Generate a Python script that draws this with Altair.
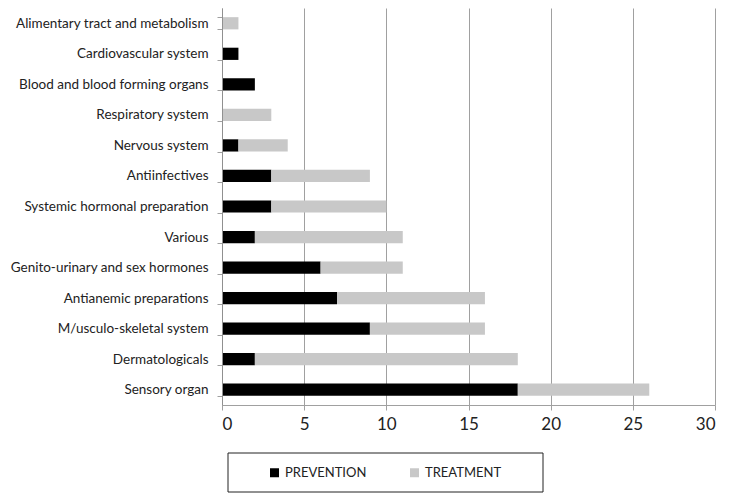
import altair as alt
import pandas as pd

categories = [
    "Alimentary tract and metabolism",
    "Cardiovascular system",
    "Blood and blood forming organs",
    "Respiratory system",
    "Nervous system",
    "Antiinfectives",
    "Systemic hormonal preparation",
    "Various",
    "Genito-urinary and sex hormones",
    "Antianemic preparations",
    "M/usculo-skeletal system",
    "Dermatologicals",
    "Sensory organ",
]
prevention = [0, 1, 2, 0, 1, 3, 3, 2, 6, 7, 9, 2, 18]
treatment = [1, 0, 0, 3, 3, 6, 7, 9, 5, 9, 7, 16, 8]
series = ["PREVENTION", "TREATMENT"]
colors = ["#000000", "#c8c8c8"]
x_ticks = [0, 5, 10, 15, 20, 25, 30]

rows = []
for c, p, t in zip(categories, prevention, treatment):
    rows.append({"category": c, "series": series[0], "value": p, "ord": 0})
    rows.append({"category": c, "series": series[1], "value": t, "ord": 1})
df = pd.DataFrame(rows)

FONT = "Lato"

bars = alt.Chart(df).mark_bar().encode(
    y=alt.Y(
        "category:N",
        sort=categories,
        title=None,
        scale=alt.Scale(paddingInner=0.6, paddingOuter=0.3),
        axis=alt.Axis(
            tickBand="extent",
            tickSize=5,
            tickColor="#a0a0a0",
            domain=True,
            domainColor="#909090",
            domainWidth=1,
            labelPadding=9,
            labelFont=FONT,
            labelFontSize=13.5,
            labelColor="#222222",
            labelLimit=400,
            grid=False,
            zindex=1,
        ),
    ),
    x=alt.X(
        "value:Q",
        stack="zero",
        title=None,
        scale=alt.Scale(domain=[0, 30], nice=False),
        axis=alt.Axis(
            values=x_ticks,
            tickSize=5,
            tickColor="#a0a0a0",
            domainColor="#a0a0a0",
            gridColor="#a0a0a0",
            grid=True,
            labelFont=FONT,
            labelFontSize=17,
            labelColor="#222222",
            labelPadding=6,
        ),
    ),
    color=alt.Color(
        "series:N",
        scale=alt.Scale(domain=series, range=colors),
        legend=alt.Legend(
            title=None,
            orient="none",
            direction="horizontal",
            legendX=46,
            legendY=458,
            symbolType="square",
            symbolSize=81,
            symbolStrokeWidth=0,
            labelFont=FONT,
            labelFontSize=13,
            labelColor="#222222",
            labelOffset=4,
            columnPadding=41,
            padding=0,
        ),
    ),
    order=alt.Order("ord:Q"),
)

box = alt.Chart(alt.Data(values=[{}])).mark_rect(
    fill="white", stroke="#222222", strokeWidth=1
).encode(
    x=alt.value(6), x2=alt.value(321), y=alt.value(445), y2=alt.value(484)
)

chart = alt.layer(box, bars).properties(
    width=493,
    height=397,
    padding={"left": 214, "top": 0, "right": 10, "bottom": 90},
    autosize=alt.AutoSizeParams(type="none"),
).configure_view(stroke=None)

chart.save("out.html", embed_options={"renderer": "svg", "actions": False})
